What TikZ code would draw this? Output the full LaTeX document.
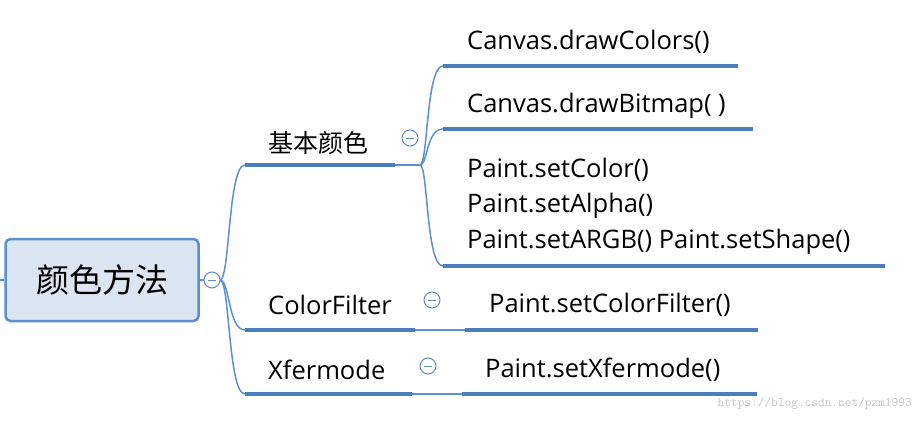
\documentclass[tikz,border=0pt]{standalone}
\usepackage{fontspec}
\setmainfont{Open Sans}
\newfontfamily\cjk{Noto Sans CJK SC}
\definecolor{ln}{HTML}{5B8FD0}
\definecolor{ul}{HTML}{4A7EBF}
\definecolor{rootfill}{HTML}{DCE6F2}
\begin{document}
\begin{tikzpicture}[x=1pt,y=-1pt,
  conn/.style={ln,line width=1.5pt},
  under/.style={ul,line width=4pt},
  lbl/.style={anchor=west,inner sep=0pt,font=\fontsize{25.5}{29}\selectfont},
  col/.style={circle,draw=ln!80!gray,line width=1pt,minimum size=16pt,inner sep=0pt,
    path picture={\draw[ln!80!gray,line width=1pt] ([xshift=-4pt]path picture bounding box.center)--([xshift=4pt]path picture bounding box.center);}}]
\useasboundingbox (0,0) rectangle (924,423);
% root
\node[draw=ln,line width=2.5pt,fill=rootfill,rounded corners=5pt,minimum width=193pt,minimum height=82pt,font=\cjk\fontsize{33}{36}\selectfont] (root) at (102,280) {颜色方法};
\coordinate (rl) at (0,280);
\draw[conn] (rl) -- (root.west);
\node[col] (c0) at (212,280) {};
\draw[conn] (root.east) -- (c0.west);
% branch nodes
\coordinate (b1a) at (245,165); \coordinate (b1b) at (395,165);
\coordinate (b2a) at (245,330); \coordinate (b2b) at (415,330);
\coordinate (b3a) at (245,394); \coordinate (b3b) at (412,394);
\draw[under] (b1a) -- (b1b);
\draw[under] (b2a) -- (b2b);
\draw[under] (b3a) -- (b3b);
\node[lbl,font=\cjk\fontsize{25}{28}\selectfont] (t1) at (268,143) {基本颜色};
\node[lbl] (t2) at (268,305) {ColorFilter};
\node[lbl] (t3) at (268,370) {Xfermode};
\coordinate (j0) at (220,280);
\draw[conn] (c0.east) -- (j0);
\draw[conn] (j0) .. controls (230,280) and (228,165) .. (b1a);
\draw[conn] (j0) .. controls (230,280) and (228,330) .. (b2a);
\draw[conn] (j0) .. controls (230,280) and (228,394) .. (b3a);
\node[col] (c1) at (410,138) {};
\node[col] (c2) at (432,300) {};
\node[col] (c3) at (428,366) {};
% children of basic colours
\coordinate (j1) at (420,165);
\draw[conn] (b1b) -- (j1);
\coordinate (k1a) at (443,66); \coordinate (k1b) at (738,66);
\coordinate (k2a) at (443,129); \coordinate (k2b) at (753,129);
\coordinate (k3a) at (443,266); \coordinate (k3b) at (885,266);
\draw[under] (k1a) -- (k1b);
\draw[under] (k2a) -- (k2b);
\draw[under] (k3a) -- (k3b);
\draw[conn] (j1) .. controls (428,165) and (426,66) .. (k1a);
\draw[conn] (j1) .. controls (428,165) and (426,129) .. (k2a);
\draw[conn] (j1) .. controls (428,165) and (426,266) .. (k3a);
\node[lbl] (s1) at (467,42) {Canvas.drawColors()};
\node[lbl] (s2) at (467,106) {Canvas.drawBitmap( )};
\node[lbl] (s3) at (467,170) {Paint.setColor()};
\node[lbl] (s4) at (467,206) {Paint.setAlpha()};
\node[lbl] (s5) at (467,242) {Paint.setARGB() Paint.setShape()};
% other children
\coordinate (m1a) at (465,330); \coordinate (m1b) at (758,330);
\coordinate (m2a) at (462,394); \coordinate (m2b) at (757,394);
\draw[conn] (b2b) -- (m1a);
\draw[conn] (b3b) -- (m2a);
\draw[under] (m1a) -- (m1b);
\draw[under] (m2a) -- (m2b);
\node[lbl] (s6) at (489,305) {Paint.setColorFilter()};
\node[lbl] (s7) at (485,370) {Paint.setXfermode()};
\node[anchor=east,inner sep=0pt,text=gray!45,font=\ttfamily\fontsize{13}{15}\selectfont] (wm) at (912,403) {https://blog.csdn.net/pzm1993};
\end{tikzpicture}
\end{document}
